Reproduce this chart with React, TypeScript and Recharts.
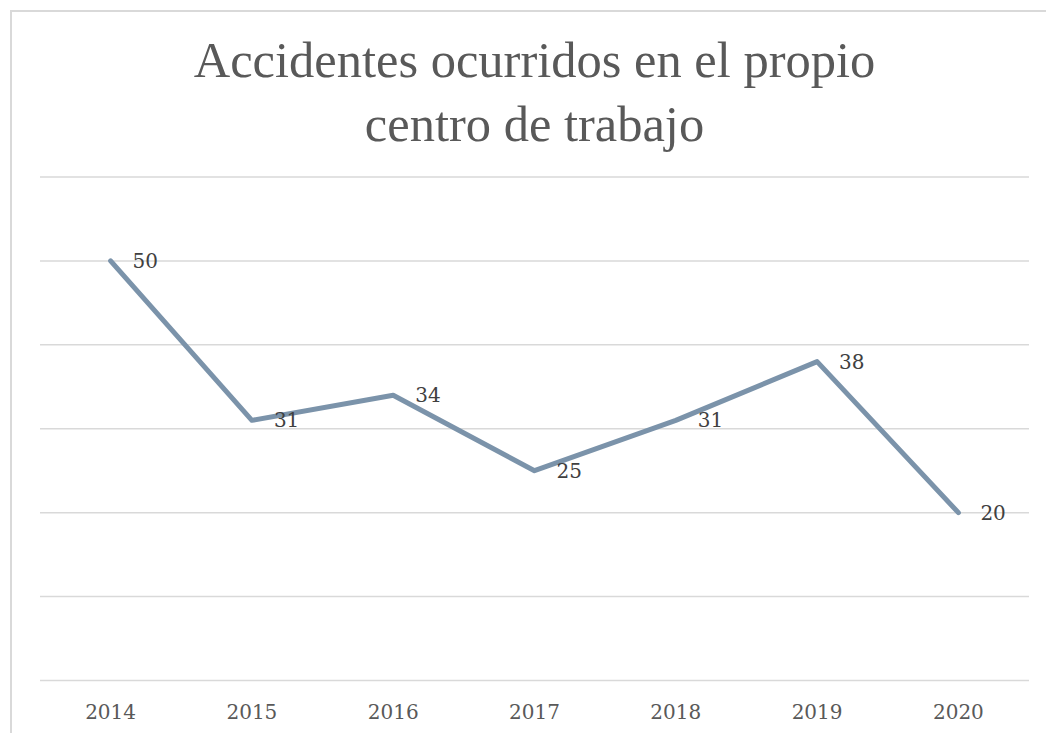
import { CartesianGrid, LabelList, Line, LineChart, XAxis, YAxis } from "recharts";

const years = ["2014", "2015", "2016", "2017", "2018", "2019", "2020"];
const accidents = [50, 31, 34, 25, 31, 38, 20];
const yTicks = [0, 10, 20, 30, 40, 50, 60];
const titleLines = ["Accidentes ocurridos en el propio", "centro de trabajo"];

const data = years.map((year, i) => ({ year, value: accidents[i] }));

export default function App() {
  return (
    <div
      style={{
        position: "fixed",
        left: 0,
        top: 0,
        width: 1046,
        height: 733,
        overflow: "hidden",
        background: "#ffffff",
      }}
    >
      <div
        style={{
          position: "absolute",
          left: 10,
          top: 10,
          width: 1100,
          height: 800,
          border: "2px solid #d9d9d9",
          boxSizing: "border-box",
        }}
      />
      <div
        style={{
          position: "absolute",
          left: 40,
          width: 989,
          top: 28,
          textAlign: "center",
          fontFamily: "'Liberation Serif', serif",
          fontSize: 50.5,
          lineHeight: "64px",
          color: "#595959",
        }}
      >
        {titleLines.map((line) => (
          <div key={line}>{line}</div>
        ))}
      </div>
      <LineChart
        width={1046}
        height={733}
        data={data}
        margin={{ top: 177, right: 17, bottom: 22.5, left: 40 }}
        style={{ position: "absolute", left: 0, top: 0 }}
      >
        <CartesianGrid horizontal vertical={false} stroke="#d9d9d9" strokeWidth={1.5} />
        <XAxis
          dataKey="year"
          axisLine={false}
          tickLine={false}
          height={30}
          tickMargin={18}
          padding={{ left: 70.6, right: 70.6 }}
          tick={{ fill: "#595959", fontSize: 20, fontFamily: "'DejaVu Serif', serif" }}
        />
        <YAxis hide domain={[0, 60]} ticks={yTicks} />
        <Line
          dataKey="value"
          stroke="#7b93aa"
          strokeWidth={5}
          strokeLinejoin="round"
          strokeLinecap="round"
          dot={false}
          activeDot={false}
          isAnimationActive={false}
        >
          <LabelList
            dataKey="value"
            position="right"
            offset={22}
            fill="#404040"
            fontSize={20}
            fontFamily="'DejaVu Serif', serif"
          />
        </Line>
      </LineChart>
    </div>
  );
}
